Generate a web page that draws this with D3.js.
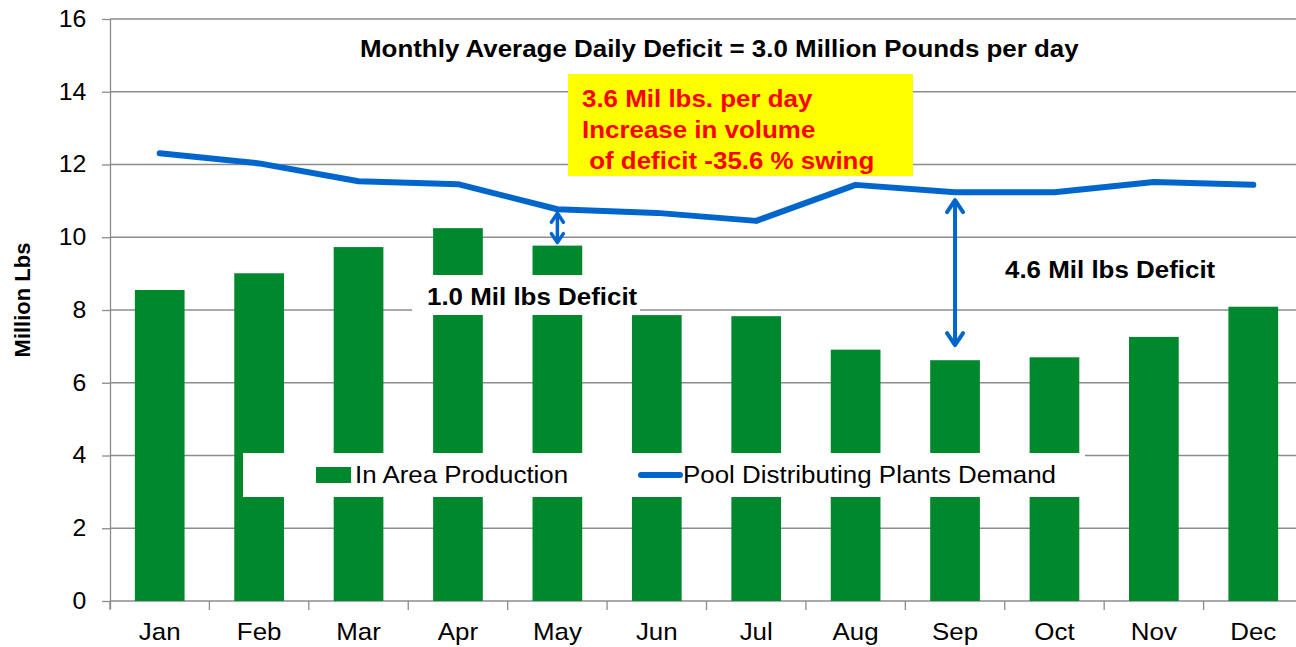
<!DOCTYPE html>
<html>
<head>
<meta charset="utf-8">
<script src="https://cdn.jsdelivr.net/npm/d3@7"></script>
<style>
  body { margin: 0; background: #fff; }
  svg text { font-family: "Liberation Sans", Arial, sans-serif; }
</style>
</head>
<body>
<svg id="chart" width="1296" height="647"></svg>
<script>
// data (million lbs per day)
const months = ['Jan', 'Feb', 'Mar', 'Apr', 'May', 'Jun', 'Jul', 'Aug', 'Sep', 'Oct', 'Nov', 'Dec'];
const production = [8.55, 9.01, 9.73, 10.25, 9.77, 7.86, 7.83, 6.91, 6.62, 6.70, 7.26, 8.09];
const demand = [12.31, 12.03, 11.54, 11.46, 10.77, 10.67, 10.45, 11.44, 11.24, 11.24, 11.52, 11.44];
const yTicks = [0, 2, 4, 6, 8, 10, 12, 14, 16];
const seriesNames = ['In Area Production', 'Pool Distributing Plants Demand'];
const titleText = 'Monthly Average Daily Deficit = 3.0 Million Pounds per day';
const noteLines = ['3.6 Mil lbs. per day', 'Increase in volume', '\u00a0of deficit -35.6 % swing'];
const deficitLabels = ['1.0 Mil lbs Deficit', '4.6 Mil lbs Deficit'];
const arrowMonths = ['May', 'Sep'];

const green = '#00882d', blue = '#0066cc', gridCol = '#8c8c8c';
const sx = 1.08; // source picture is a bit stretched sideways

const svg = d3.select('#chart');
svg.append('rect').attr('width', 1296).attr('height', 647).attr('fill', '#fff');

const x = d3.scaleBand().domain(months).range([110, 1303]).paddingInner(0.5).paddingOuter(0.25);
const y = d3.scaleLinear().domain([0, 16]).range([601, 19]);
const step = x.step();

function label(g, txt, tx, ty, opts) {
  opts = opts || {};
  return g.append('text')
    .attr('transform', 'translate(' + tx + ',' + ty + ') scale(' + sx + ',1)')
    .attr('font-size', opts.size || 24)
    .attr('font-weight', opts.bold ? 'bold' : 'normal')
    .attr('fill', opts.fill || '#000')
    .attr('text-anchor', opts.anchor || 'start')
    .text(txt);
}

// gridlines
svg.append('g').selectAll('line')
  .data(yTicks.filter(d => d > 0))
  .enter().append('line')
  .attr('x1', 110).attr('x2', 1296)
  .attr('y1', d => y(d)).attr('y2', d => y(d))
  .attr('stroke', gridCol).attr('stroke-width', 1.3);

// y axis
const yAxis = svg.append('g').attr('transform', 'translate(110,0)')
  .call(d3.axisLeft(y).tickValues(yTicks).tickSize(8).tickPadding(14));
yAxis.select('.domain').attr('stroke', gridCol).attr('stroke-width', 1.3).attr('d', 'M0.5,19V609');
yAxis.selectAll('.tick line').attr('stroke', gridCol).attr('stroke-width', 1.3);
yAxis.selectAll('.tick text')
  .attr('font-size', 23).attr('fill', '#000')
  .attr('transform', 'scale(' + sx + ',1)')
  .attr('font-family', '"Liberation Sans", Arial, sans-serif');

// x axis line and category ticks
const xg = svg.append('g');
xg.append('line').attr('x1', 110).attr('x2', 1296).attr('y1', y(0)).attr('y2', y(0))
  .attr('stroke', gridCol).attr('stroke-width', 1.3);
xg.selectAll('line.tk')
  .data(months)
  .enter().append('line').attr('class', 'tk')
  .attr('x1', d => x(d) - (step - x.bandwidth()) / 2)
  .attr('x2', d => x(d) - (step - x.bandwidth()) / 2)
  .attr('y1', y(0)).attr('y2', y(0) + 9)
  .attr('stroke', gridCol).attr('stroke-width', 1.3);
months.forEach(m => label(xg, m, x(m) + x.bandwidth() / 2, 640, { anchor: 'middle', size: 24 }));

// bars
svg.append('g').selectAll('rect')
  .data(production)
  .enter().append('rect')
  .attr('x', (d, i) => x(months[i]))
  .attr('y', d => y(d))
  .attr('width', x.bandwidth())
  .attr('height', d => y(0) - y(d))
  .attr('fill', green);

// demand line
const line = d3.line()
  .x((d, i) => x(months[i]) + x.bandwidth() / 2)
  .y(d => y(d));
svg.append('path').datum(demand)
  .attr('d', line)
  .attr('fill', 'none').attr('stroke', blue)
  .attr('stroke-width', 6).attr('stroke-linejoin', 'round').attr('stroke-linecap', 'round');

// y axis title
svg.append('text')
  .attr('transform', 'translate(30,300) rotate(-90)')
  .attr('text-anchor', 'middle')
  .attr('font-size', 22).attr('font-weight', 'bold')
  .text('Million Lbs');

// title
label(svg, titleText, 360, 57, { bold: true, size: 24 });

// yellow note
svg.append('rect').attr('x', 568).attr('y', 74).attr('width', 345).attr('height', 102).attr('fill', '#ffff00');
noteLines.forEach((t, i) => label(svg, t, 582, 107 + i * 31, { bold: true, size: 24, fill: '#ff0000' }));

// 1.0 deficit label box
svg.append('rect').attr('x', 412).attr('y', 275).attr('width', 228).attr('height', 40).attr('fill', '#fff');
label(svg, deficitLabels[0], 427, 305, { bold: true, size: 24 });
label(svg, deficitLabels[1], 1005, 278, { bold: true, size: 24 });

// double arrows between demand and production
function dblArrow(m, gapTop, gapBot, w, h, sw) {
  const i = months.indexOf(m);
  const cx = x(m) + x.bandwidth() / 2;
  const y1 = y(demand[i]) + gapTop, y2 = y(production[i]) - gapBot;
  const g = svg.append('g').attr('fill', 'none').attr('stroke', blue)
    .attr('stroke-width', sw).attr('stroke-linecap', 'round').attr('stroke-linejoin', 'round');
  g.append('line').attr('x1', cx).attr('x2', cx).attr('y1', y1 + 1).attr('y2', y2 - 1);
  g.append('path').attr('d', 'M' + (cx - w / 2) + ',' + (y1 + h) + 'L' + cx + ',' + y1 + 'L' + (cx + w / 2) + ',' + (y1 + h));
  g.append('path').attr('d', 'M' + (cx - w / 2) + ',' + (y2 - h) + 'L' + cx + ',' + y2 + 'L' + (cx + w / 2) + ',' + (y2 - h));
}
dblArrow(arrowMonths[0], 4, 3, 12, 9, 3.5);
dblArrow(arrowMonths[1], 8, 15, 16, 12, 4);

// legend
const lg = svg.append('g');
lg.append('rect').attr('x', 243).attr('y', 453).attr('width', 842).attr('height', 44).attr('fill', '#fff');
lg.append('rect').attr('x', 316).attr('y', 467).attr('width', 35).attr('height', 16).attr('fill', green);
label(lg, seriesNames[0], 355, 483, { size: 24 });
lg.append('line').attr('x1', 641).attr('x2', 680).attr('y1', 475).attr('y2', 475)
  .attr('stroke', blue).attr('stroke-width', 6).attr('stroke-linecap', 'round');
label(lg, seriesNames[1], 683, 483, { size: 24 });
</script>
</body>
</html>
